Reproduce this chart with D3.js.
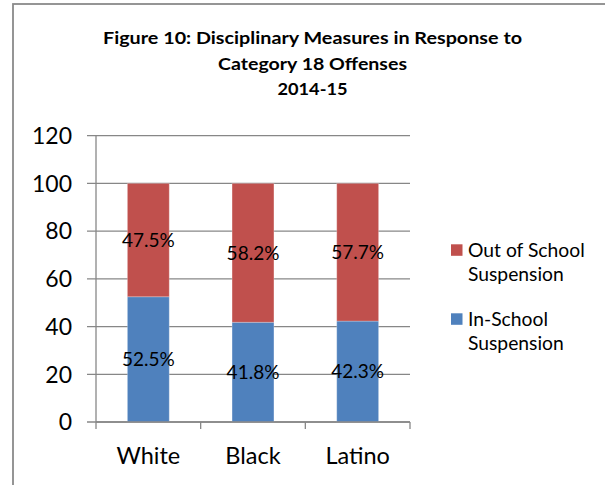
<!DOCTYPE html>
<html>
<head>
<meta charset="utf-8">
<script src="https://cdn.jsdelivr.net/npm/d3@7"></script>
<style>
  html, body { margin: 0; padding: 0; background: #fff; }
  svg { display: block; }
  text { font-family: Lato, "Open Sans", sans-serif; fill: #000; }
</style>
</head>
<body>
<svg id="chart" width="605" height="485"></svg>
<script>
// ---- data ----
const categories = ["White", "Black", "Latino"];
const inSchool = [52.5, 41.8, 42.3];
const outOfSchool = [47.5, 58.2, 57.7];
const seriesNames = ["Out of School Suspension", "In-School Suspension"];
const yTicks = [0, 20, 40, 60, 80, 100, 120];
const titleLines = ["Figure 10: Disciplinary Measures in Response to", "Category 18 Offenses", "2014-15"];

const colors = { out: "#C0504D", in: "#4F81BD" };
const gridColor = "#878787";

const svg = d3.select("#chart");

// outer border
svg.append("rect")
  .attr("x", 13).attr("y", 4)
  .attr("width", 605).attr("height", 500)
  .attr("fill", "none")
  .attr("stroke", "#8a8a8a")
  .attr("stroke-width", 1.8);

// title
const titleCenter = 312.5;
const titleBaselines = [44.3, 69.5, 94.5];
const titleWidths = [419, 189, 70];
titleLines.forEach((t, i) => {
  svg.append("text")
    .attr("x", titleCenter)
    .attr("y", titleBaselines[i])
    .attr("text-anchor", "middle")
    .attr("font-weight", "bold")
    .attr("font-size", 17.5)
    .attr("textLength", titleWidths[i])
    .attr("lengthAdjust", "spacingAndGlyphs")
    .text(t);
});

// scales
const plot = { left: 96, right: 410, top: 135.7, bottom: 422 };
const x = d3.scaleBand().domain(categories).range([plot.left, plot.right]).padding(0);
const y = d3.scaleLinear().domain([0, 120]).range([plot.bottom, plot.top]);

// gridlines (extend left to act as ticks)
svg.append("g")
  .selectAll("line")
  .data(yTicks)
  .join("line")
  .attr("x1", plot.left - 9)
  .attr("x2", plot.right)
  .attr("y1", d => y(d))
  .attr("y2", d => y(d))
  .attr("stroke", gridColor)
  .attr("stroke-width", 1.3);

// y tick labels
svg.append("g")
  .selectAll("text")
  .data(yTicks)
  .join("text")
  .attr("x", 72)
  .attr("y", d => y(d))
  .attr("dy", "0.36em")
  .attr("text-anchor", "end")
  .attr("font-size", 23)
  .text(d => d);

// stacked data
const rows = categories.map((c, i) => ({ cat: c, in: inSchool[i], out: outOfSchool[i] }));
const stack = d3.stack().keys(["in", "out"])(rows);

const barW = x.bandwidth() * 0.4;
const barX = c => x(c) + (x.bandwidth() - barW) / 2;

stack.forEach(layer => {
  svg.append("g")
    .selectAll("rect")
    .data(layer)
    .join("rect")
    .attr("x", d => barX(d.data.cat))
    .attr("width", barW)
    .attr("y", d => y(d[1]))
    .attr("height", d => y(d[0]) - y(d[1]))
    .attr("fill", colors[layer.key])
    .attr("stroke", "rgba(255,255,255,0.25)")
    .attr("stroke-width", 1);
});

// y axis line
svg.append("line")
  .attr("x1", plot.left).attr("x2", plot.left)
  .attr("y1", plot.top).attr("y2", plot.bottom + 7)
  .attr("stroke", gridColor).attr("stroke-width", 1.3);

// x axis line & ticks
svg.append("line")
  .attr("x1", plot.left).attr("x2", plot.right)
  .attr("y1", plot.bottom).attr("y2", plot.bottom)
  .attr("stroke", gridColor).attr("stroke-width", 1.3);

svg.append("g")
  .selectAll("line")
  .data(categories)
  .join("line")
  .attr("x1", d => x(d) + x.bandwidth())
  .attr("x2", d => x(d) + x.bandwidth())
  .attr("y1", plot.bottom)
  .attr("y2", plot.bottom + 7)
  .attr("stroke", gridColor).attr("stroke-width", 1.3);

// category labels
svg.append("g")
  .selectAll("text")
  .data(categories)
  .join("text")
  .attr("x", d => x(d) + x.bandwidth() / 2)
  .attr("y", 464)
  .attr("text-anchor", "middle")
  .attr("font-size", 23.5)
  .text(d => d);

// data labels
stack.forEach(layer => {
  svg.append("g")
    .selectAll("text")
    .data(layer)
    .join("text")
    .attr("x", d => x(d.data.cat) + x.bandwidth() / 2)
    .attr("y", d => y((d[0] + d[1]) / 2))
    .attr("dy", "0.36em")
    .attr("text-anchor", "middle")
    .attr("font-size", 19)
    .text(d => (d[1] - d[0]).toFixed(1) + "%");
});

// legend
const legendItems = [
  { lines: ["Out of School", "Suspension"], color: colors.out, top: 244.3 },
  { lines: ["In-School", "Suspension"], color: colors.in, top: 313.3 }
];
const lg = svg.append("g");
legendItems.forEach(item => {
  lg.append("rect")
    .attr("x", 451).attr("y", item.top)
    .attr("width", 11.5).attr("height", 11.5)
    .attr("fill", item.color);
  item.lines.forEach((l, j) => {
    lg.append("text")
      .attr("x", 468)
      .attr("y", item.top + 13 + j * 23.5)
      .attr("font-size", 19.3)
      .text(l);
  });
});
</script>
</body>
</html>
